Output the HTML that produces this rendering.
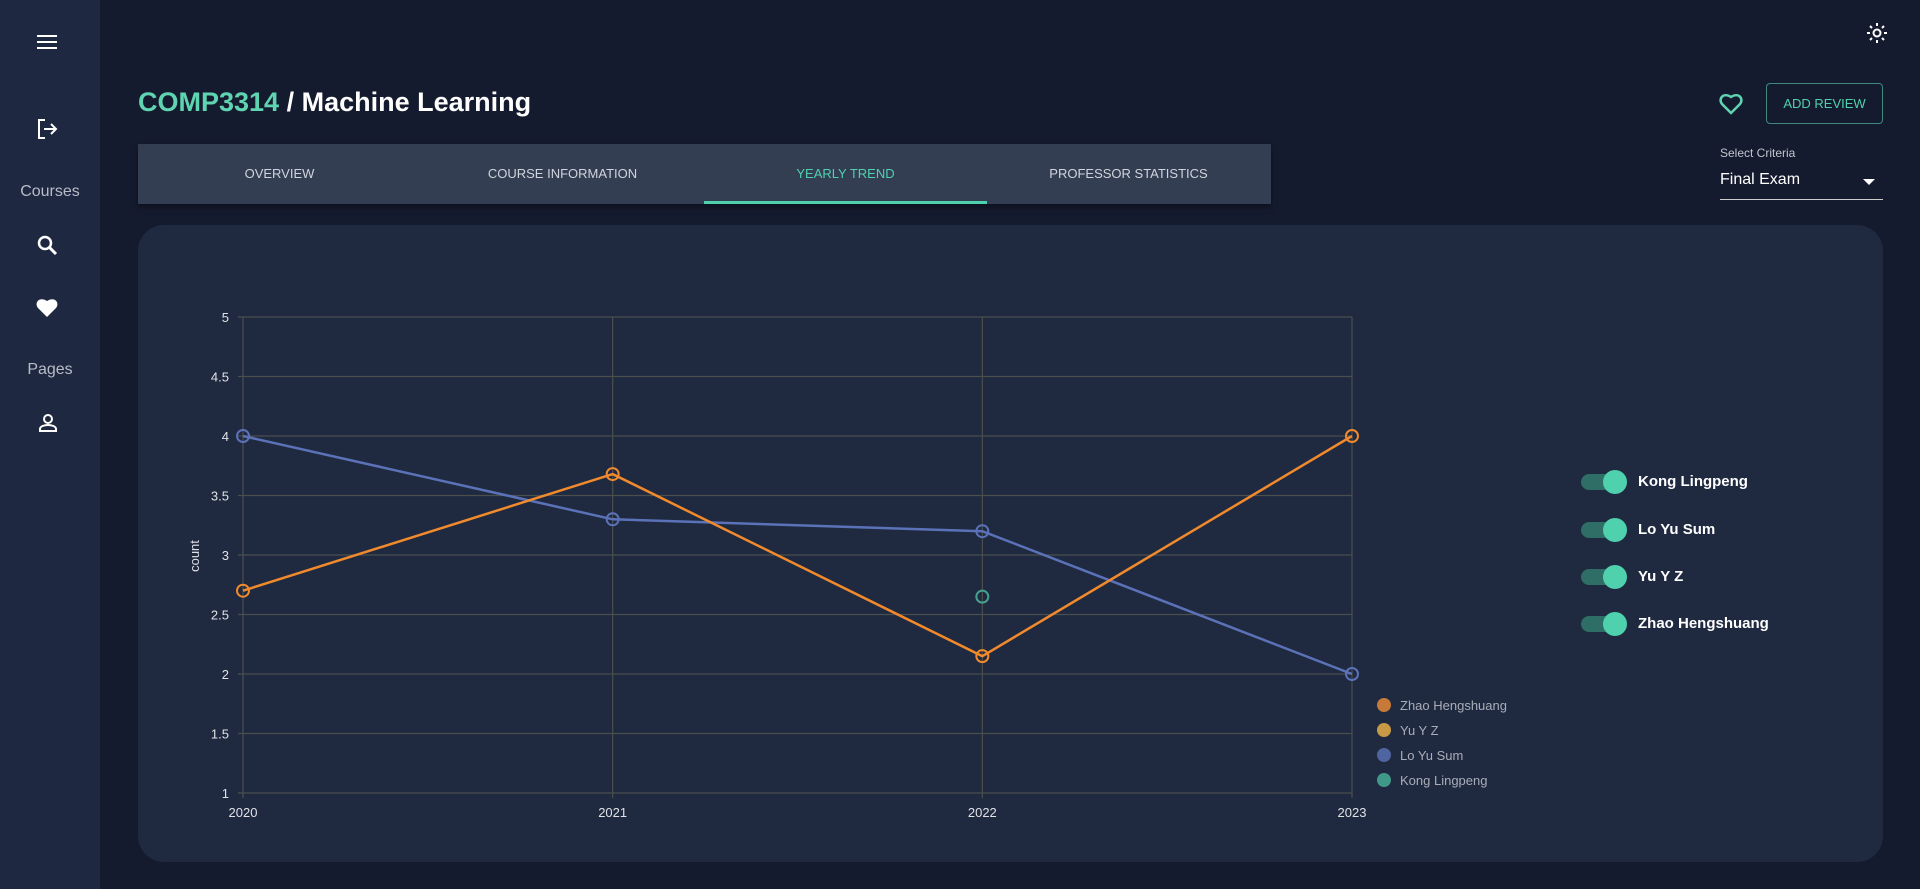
<!DOCTYPE html>
<html><head><meta charset="utf-8"><style>
*{box-sizing:border-box;margin:0;padding:0}
body{width:1920px;height:889px;background:#151b2e;font-family:"Liberation Sans",sans-serif;overflow:hidden;position:relative;color:#fff}
.abs{position:absolute}
#side{left:0;top:0;width:100px;height:889px;background:#1e2840}
.sl{color:#b8bcc8;font-size:16px;width:100px;text-align:center}
.tab{position:absolute;top:0;height:60px;width:283px;line-height:60px;text-align:center;font-size:13px;color:#d0d4dc}
.leg{position:absolute;left:1377px;font-size:13px;color:#a9adb8}
.leg i{display:inline-block;width:14px;height:14px;border-radius:50%;vertical-align:-2px;margin-right:9px}
.tog{position:absolute;left:1581px;width:46px;height:24px}
.tog .tr{position:absolute;left:0;top:4px;width:40px;height:16px;border-radius:8px;background:#2f6e66}
.tog .kn{position:absolute;left:22px;top:0;width:24px;height:24px;border-radius:50%;background:#4fd1ae}
.tn{position:absolute;left:1638px;font-size:15px;font-weight:bold;color:#fff}
</style></head><body>
<div id="side" class="abs">
 <svg class="abs" style="left:37px;top:33px" width="20" height="18"><rect y="2" width="20" height="2" fill="#fff"/><rect y="8" width="20" height="2" fill="#fff"/><rect y="14" width="20" height="2" fill="#fff"/></svg>
 <svg class="abs" style="left:36px;top:118px" width="22" height="22"><path d="M9 2H3v18h6M8 11h12M15 6l5 5-5 5" fill="none" stroke="#fff" stroke-width="2"/></svg>
 <div class="abs sl" style="top:183px">Courses</div>
 <svg class="abs" style="left:37px;top:235px" width="22" height="22"><circle cx="8" cy="8" r="6" fill="none" stroke="#fff" stroke-width="2.5"/><path d="M12 12l7 7" stroke="#fff" stroke-width="3"/></svg>
 <svg class="abs" style="left:35px;top:296px" width="24" height="22"><path d="M12 21L3 12C-1 7 4 0 12 5C20 0 25 7 21 12Z" fill="#fff"/></svg>
 <div class="abs sl" style="top:361px">Pages</div>
 <svg class="abs" style="left:38px;top:413px" width="20" height="20"><circle cx="10" cy="6" r="4" fill="none" stroke="#fff" stroke-width="2"/><path d="M2 18v-2c0-3 5-4 8-4s8 1 8 4v2z" fill="none" stroke="#fff" stroke-width="2"/></svg>
</div>
<svg class="abs" style="left:1867px;top:23px" width="20" height="20"><circle cx="10" cy="10" r="3.5" fill="none" stroke="#fff" stroke-width="2"/><g stroke="#fff" stroke-width="2"><path d="M10 0v3M10 17v3M0 10h3M17 10h3M3 3l2 2M15 15l2 2M3 17l2-2M15 5l2-2"/></g></svg>
<div class="abs" style="left:138px;top:87px;font-size:27px;font-weight:bold"><span style="color:#5fd4b0">COMP3314</span> / Machine Learning</div>
<svg class="abs" style="left:1718px;top:92px" width="26" height="24"><path d="M13 21L4 12C0 7 5 0 13 5C21 0 26 7 22 12Z" fill="none" stroke="#5fd4b0" stroke-width="2.5"/></svg>
<div class="abs" style="left:1766px;top:83px;width:117px;height:41px;border:1px solid #3d8a7b;border-radius:4px;color:#4fd1ae;font-size:13px;text-align:center;line-height:39px">ADD REVIEW</div>
<div class="abs" style="left:1720px;top:146px;font-size:12px;color:#c0c4cc">Select Criteria</div>
<div class="abs" style="left:1720px;top:171px;width:163px;height:29px;border-bottom:1px solid #ccc;font-size:16px;color:#fff">Final Exam<span style="position:absolute;right:8px;top:8px;border-left:6px solid transparent;border-right:6px solid transparent;border-top:6px solid #fff"></span></div>
<div class="abs" style="left:138px;top:144px;width:1133px;height:60px;background:#333e52;box-shadow:0 3px 6px rgba(0,0,0,.4)">
 <div class="tab" style="left:0">OVERVIEW</div>
 <div class="tab" style="left:283px">COURSE INFORMATION</div>
 <div class="tab" style="left:566px;color:#4fd1ae;border-bottom:3px solid #4fd1ae">YEARLY TREND</div>
 <div class="tab" style="left:849px">PROFESSOR STATISTICS</div>
</div>
<div class="abs" style="left:138px;top:225px;width:1745px;height:637px;background:#1f2940;border-radius:26px"></div>
<svg id="chart" class="abs" style="left:0;top:0" width="1920" height="889"></svg>
<div class="leg" style="top:698px"><i style="background:#c77a38"></i>Zhao Hengshuang</div>
<div class="leg" style="top:723px"><i style="background:#c99a45"></i>Yu Y Z</div>
<div class="leg" style="top:748px"><i style="background:#4e65a0"></i>Lo Yu Sum</div>
<div class="leg" style="top:773px"><i style="background:#3f9888"></i>Kong Lingpeng</div>
<div class="tog" style="top:470px"><div class="tr"></div><div class="kn"></div></div>
<div class="tn" style="top:473px">Kong Lingpeng</div>
<div class="tog" style="top:518px"><div class="tr"></div><div class="kn"></div></div>
<div class="tn" style="top:521px">Lo Yu Sum</div>
<div class="tog" style="top:565px"><div class="tr"></div><div class="kn"></div></div>
<div class="tn" style="top:568px">Yu Y Z</div>
<div class="tog" style="top:612px"><div class="tr"></div><div class="kn"></div></div>
<div class="tn" style="top:615px">Zhao Hengshuang</div>
<script>
const years=["2020","2021","2022","2023"];
const yTicks=[1,1.5,2,2.5,3,3.5,4,4.5,5];
const zhao=[2.7,3.68,2.15,4];
const lo=[4,3.3,3.2,2];
const kong=[null,null,2.65,null];
const svg=document.getElementById('chart');
const NS='http://www.w3.org/2000/svg';
const X0=243,X1=1352,Y0=793,Y1=317;
const xs=i=>X0+(X1-X0)*i/(years.length-1);
const ys=v=>Y0-(v-1)/(5-1)*(Y0-Y1);
function mk(t,a){const e=document.createElementNS(NS,t);for(const k in a)e.setAttribute(k,a[k]);svg.appendChild(e);return e;}
yTicks.forEach(v=>{
 const l=mk('line',{x1:X0-5,x2:X1,y1:ys(v),y2:ys(v),stroke:'#4b4f4c','stroke-width':1.2});
 
 
 const t=mk('text',{x:X0-14,y:ys(v)+5,'text-anchor':'end',fill:'#e0e2e6','font-size':13,'font-family':'Liberation Sans'});
 t.textContent=v;
 
 
});
years.forEach((y,i)=>{
 const l=mk('line',{x1:xs(i),x2:xs(i),y1:Y1,y2:Y0+5,stroke:'#4b4f4c','stroke-width':1.2});
 
 
 const t=mk('text',{x:xs(i),y:Y0+24,'text-anchor':'middle',fill:'#e0e2e6','font-size':13,'font-family':'Liberation Sans'});
 t.textContent=y;
 
 
});
const yl=mk('text',{x:199,y:556,transform:'rotate(-90 199 556)','text-anchor':'middle',fill:'#e0e2e6','font-size':13,'font-family':'Liberation Sans'});
yl.textContent='count';


function series(vals,color,name){
 const pts=vals.map((v,i)=>v==null?null:[xs(i),ys(v)]).filter(p=>p);
 if(pts.length>1){const p=mk('polyline',{points:pts.map(p=>p.join(',')).join(' '),fill:'none',stroke:color,'stroke-width':2.5});
 
 }
 pts.forEach(pt=>{const c=mk('circle',{cx:pt[0],cy:pt[1],r:6,fill:'none',stroke:color,'stroke-width':2});
 
 });
}
series(lo,'#5b72b8','lo-yu-sum');
series(zhao,'#f08a2c','zhao-hengshuang');
series(kong,'#45a08e','kong-lingpeng');
</script>
</body></html>
